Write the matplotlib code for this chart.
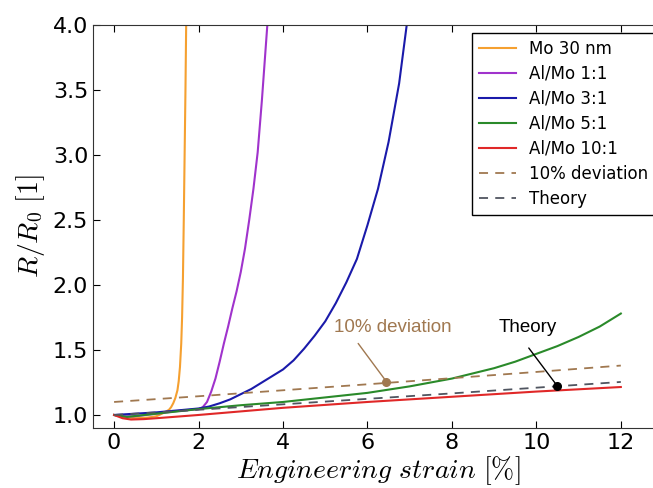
import matplotlib
matplotlib.use("Agg")
import matplotlib.pyplot as plt

plt.rcParams["mathtext.fontset"] = "cm"
plt.rcParams["xtick.direction"] = "in"
plt.rcParams["ytick.direction"] = "in"
plt.rcParams["xtick.top"] = True
plt.rcParams["ytick.right"] = True

# strain [%] and R/R0
mo_x = [0, 0.2, 0.5, 0.8, 1.0, 1.2, 1.3, 1.35, 1.4, 1.45, 1.5, 1.53, 1.56, 1.59,
        1.61, 1.63, 1.65, 1.67, 1.69, 1.71]
mo_y = [1.0, 0.985, 0.975, 0.98, 0.99, 1.02, 1.04, 1.06, 1.09, 1.13, 1.19, 1.26, 1.37,
        1.55, 1.75, 2.05, 2.5, 3.0, 3.5, 4.1]

al11_x = [0, 0.2, 0.5, 1.0, 1.5, 2.0, 2.1, 2.2, 2.3, 2.4, 2.5, 2.6, 2.7, 2.8, 2.9,
          3.0, 3.1, 3.2, 3.3, 3.4, 3.5, 3.58, 3.64]
al11_y = [1.0, 0.99, 0.99, 1.01, 1.03, 1.045, 1.06, 1.1, 1.18, 1.28, 1.41, 1.55, 1.68,
          1.82, 1.95, 2.1, 2.28, 2.5, 2.74, 3.02, 3.42, 3.78, 4.05]

al31_x = [0, 0.5, 1, 1.5, 2, 2.25, 2.5, 2.75, 3, 3.25, 3.5, 3.75, 4, 4.25, 4.5, 4.75,
          5, 5.25, 5.5, 5.75, 6, 6.25, 6.5, 6.75, 6.95]
al31_y = [1.0, 1.01, 1.02, 1.035, 1.05, 1.065, 1.09, 1.12, 1.16, 1.2, 1.25, 1.3, 1.35,
          1.42, 1.51, 1.61, 1.72, 1.86, 2.02, 2.2, 2.46, 2.74, 3.1, 3.55, 4.05]

al51_x = [0, 0.3, 1, 2, 3, 4, 5, 6, 7, 7.5, 8, 8.5, 9, 9.5, 10, 10.5, 11, 11.5, 12]
al51_y = [1.0, 0.985, 1.01, 1.045, 1.075, 1.1, 1.135, 1.17, 1.22, 1.25, 1.28, 1.32,
          1.36, 1.41, 1.47, 1.53, 1.6, 1.68, 1.78]

al101_x = [0, 0.2, 0.4, 0.7, 1, 2, 4, 6, 8, 10, 12]
al101_y = [1.0, 0.975, 0.965, 0.968, 0.975, 1.0, 1.055, 1.1, 1.14, 1.18, 1.215]

theory_x = [0, 2, 4, 6, 8, 10, 12]
theory_y = [1.0, 1.04, 1.082, 1.124, 1.166, 1.21, 1.254]
dev_y = [1.1, 1.144, 1.19, 1.236, 1.283, 1.331, 1.38]

fig = plt.figure(figsize=(6.53, 4.88), dpi=100)
ax = fig.add_axes([0.1424, 0.123, 0.873, 0.826])

ax.plot(mo_x, mo_y, color="#f5a030", lw=1.5, label="Mo 30 nm")
ax.plot(al11_x, al11_y, color="#a033cc", lw=1.5, label="Al/Mo 1:1")
ax.plot(al31_x, al31_y, color="#1a1aaa", lw=1.5, label="Al/Mo 3:1")
ax.plot(al51_x, al51_y, color="#2a8a2a", lw=1.5, label="Al/Mo 5:1")
ax.plot(al101_x, al101_y, color="#e02828", lw=1.5, label="Al/Mo 10:1")
ax.plot(theory_x, dev_y, color="#a07850", lw=1.3, ls=(0, (5, 4)), label="10% deviation")
ax.plot(theory_x, theory_y, color="#505560", lw=1.3, ls=(0, (5, 4)), label="Theory")

# callouts: leader line from below the text to a dot on the dashed line
ax.annotate("", xy=(6.45, 1.256), xytext=(5.78, 1.55),
            arrowprops=dict(arrowstyle="-", color="#a07850", lw=1,
                            shrinkA=0, shrinkB=0))
ax.plot([6.45], [1.256], "o", color="#a07850", ms=5.5)
ax.text(6.6, 1.67, "10% deviation", color="#a07850", fontsize=13.5,
        family="Liberation Sans", ha="center", va="center")

ax.annotate("", xy=(10.5, 1.221), xytext=(9.82, 1.515),
            arrowprops=dict(arrowstyle="-", color="black", lw=1,
                            shrinkA=0, shrinkB=0))
ax.plot([10.5], [1.221], "o", color="black", ms=5.5)
ax.text(9.8, 1.67, "Theory", color="black", fontsize=13.5,
        family="Liberation Sans", ha="center", va="center")

ax.set_xlim(-0.5, 13)
ax.set_ylim(0.9, 4.0)
ax.set_xticks([0, 2, 4, 6, 8, 10, 12])
ax.set_yticks([1.0, 1.5, 2.0, 2.5, 3.0, 3.5, 4.0])
ax.tick_params(labelsize=16, length=5, width=0.8)
ax.set_xlabel(r"$Engineering\ strain\ [\%]$", fontsize=20, labelpad=1)
ax.set_ylabel(r"$R/R_0\ [1]$", fontsize=20)
for s in ax.spines.values():
    s.set_color("#333333")

leg = ax.legend(loc="upper right", fontsize=12, handlelength=2.2,
                labelspacing=0.42, fancybox=False, framealpha=1,
                edgecolor="black", borderaxespad=0.5)
leg.get_frame().set_linewidth(1)

fig.savefig("out.png", dpi=100)
